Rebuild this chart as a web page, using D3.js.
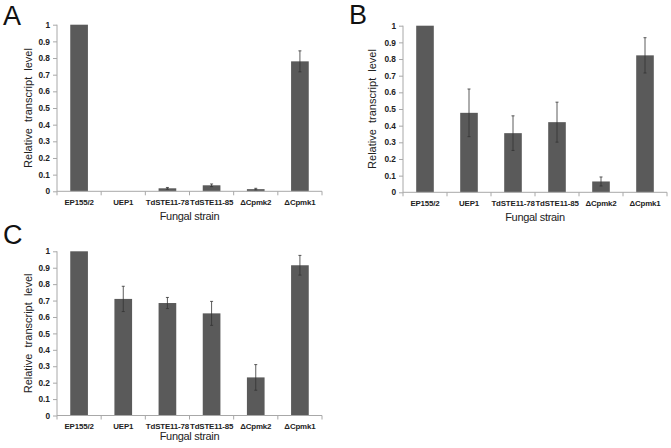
<!DOCTYPE html>
<html><head><meta charset="utf-8">
<script src="https://cdn.jsdelivr.net/npm/d3@7"></script>
<style>body{margin:0;background:#fff}svg{display:block}</style>
</head><body>
<svg id="c" width="671" height="448"></svg>
<script>
const categories = ["EP155/2","UEP1","TdSTE11-78","TdSTE11-85","\u0394Cpmk2","\u0394Cpmk1"];
const yTicks = [0,0.1,0.2,0.3,0.4,0.5,0.6,0.7,0.8,0.9,1];
const valuesA = [1.0, 0, 0.018, 0.036, 0.013, 0.78];
const errorsA = [0, 0, 0.005, 0.008, 0.005, 0.063];
const valuesB = [1.0, 0.477, 0.355, 0.421, 0.065, 0.822];
const errorsB = [0, 0.143, 0.104, 0.12, 0.027, 0.106];
const valuesC = [1.0, 0.71, 0.685, 0.622, 0.232, 0.915];
const errorsC = [0, 0.077, 0.034, 0.073, 0.078, 0.06];
const panelLabels = ["A","B","C"];
const yTitle = "Relative\u00a0 transcript\u00a0 level";
const xTitle = "Fungal strain";

const svg = d3.select("#c");
const panels = [
  {label:panelLabels[0], vals:valuesA, errs:errorsA, left:57, right:322, top:24.7, bottom:191.3, lx:3, ly:24.5, ytx:28, xty:220},
  {label:panelLabels[1], vals:valuesB, errs:errorsB, left:403, right:667, top:25.7, bottom:192.3, lx:349, ly:24, ytx:372, xty:221},
  {label:panelLabels[2], vals:valuesC, errs:errorsC, left:57, right:322, top:251.3, bottom:415.5, lx:3, ly:244, ytx:28, xty:440}
];
const font = "'Liberation Sans', Arial, sans-serif";
const barColor = "#5a5a5a";
const axisColor = "#a8a8a8";

panels.forEach(p => {
  const g = svg.append("g");
  const x = d3.scaleBand().domain(categories).range([p.left, p.right]).paddingInner(0.6).paddingOuter(0.3);
  const band = d3.scaleBand().domain(categories).range([p.left, p.right]);
  const y = d3.scaleLinear().domain([0,1]).range([p.bottom, p.top]);

  // y axis
  const ya = g.append("g").attr("transform",`translate(${p.left},0)`)
    .call(d3.axisLeft(y).tickValues(yTicks).tickSize(4).tickPadding(3).tickFormat(d => d===0?"0":d===1?"1":d3.format(".1f")(d)));
  ya.select(".domain").attr("stroke",axisColor).attr("d",`M-0,${p.bottom}V${p.top}`);
  ya.selectAll(".tick line").attr("stroke",axisColor);
  ya.selectAll(".tick text").attr("font-family",font).attr("font-size",8.3).attr("font-weight","bold").attr("fill","#222");

  // bars
  g.selectAll("rect").data(p.vals).join("rect")
    .attr("x",(d,i)=>x(categories[i]))
    .attr("width",x.bandwidth())
    .attr("y",d=>y(d))
    .attr("height",d=>y(0)-y(d))
    .attr("fill",barColor);

  // error bars
  p.vals.forEach((v,i) => {
    const e = p.errs[i];
    if (!(v>0) || e<=0) return;
    const cx = x(categories[i]) + x.bandwidth()/2;
    g.append("line").attr("x1",cx).attr("x2",cx).attr("y1",y(v+e)).attr("y2",y(v-e)).attr("stroke","#333").attr("stroke-width",0.8);
    g.append("line").attr("x1",cx-1.5).attr("x2",cx+1.5).attr("y1",y(v+e)).attr("y2",y(v+e)).attr("stroke","#333").attr("stroke-width",0.8);
    g.append("line").attr("x1",cx-1.5).attr("x2",cx+1.5).attr("y1",y(v-e)).attr("y2",y(v-e)).attr("stroke","#333").attr("stroke-width",0.8);
  });

  // x axis
  const xa = g.append("g").attr("transform",`translate(0,${p.bottom})`)
    .call(d3.axisBottom(band).tickSize(0).tickPadding(8));
  xa.select(".domain").attr("stroke",axisColor).attr("d",`M${p.left},0H${p.right}`);
  xa.selectAll(".tick text").attr("font-family",font).attr("font-size",7.9).attr("letter-spacing",-0.15).attr("font-weight","bold").attr("fill","#222");
  const bounds = categories.map(c=>band(c)).concat([p.right]);
  xa.selectAll("line.bt").data(bounds).join("line").attr("class","bt")
    .attr("x1",d=>d).attr("x2",d=>d).attr("y1",0).attr("y2",4).attr("stroke",axisColor);

  // titles
  g.append("text").attr("x",(p.left+p.right)/2).attr("y",p.xty).attr("text-anchor","middle")
    .attr("font-family",font).attr("font-size",11).attr("letter-spacing",-0.3).attr("fill","#222").text(xTitle);
  g.append("text").attr("transform",`translate(${p.ytx},${(p.top+p.bottom)/2}) rotate(-90)`)
    .attr("text-anchor","middle").attr("dy","0.35em")
    .attr("font-family",font).attr("font-size",11).attr("fill","#222").text(yTitle);
  g.append("text").attr("x",p.lx).attr("y",p.ly).attr("font-family",font).attr("font-size",27).attr("fill","#111").text(p.label);
});
</script>
</body></html>
